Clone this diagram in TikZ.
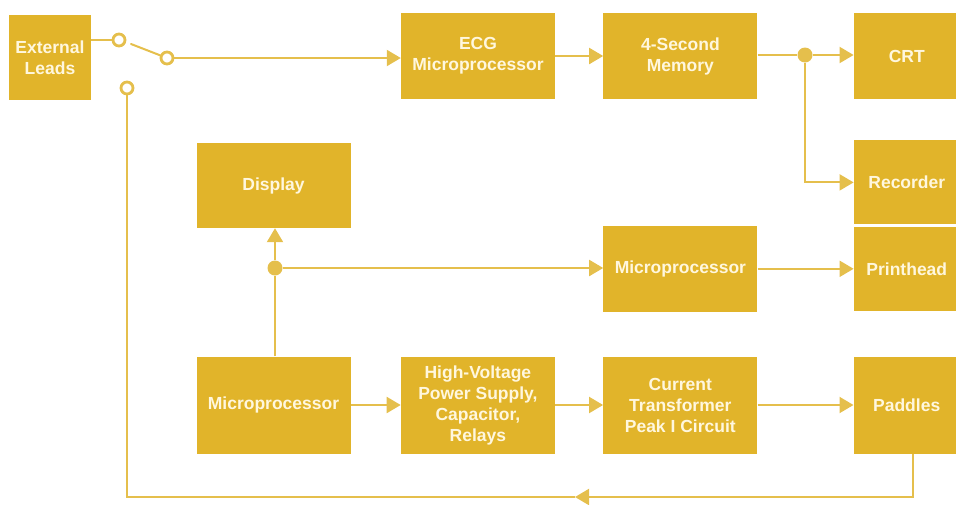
\documentclass[tikz,border=0pt]{standalone}
\usepackage{fontspec}
\setmainfont{Liberation Sans}
\usetikzlibrary{positioning,arrows.meta}
\definecolor{boxgold}{HTML}{E1B42A}
\definecolor{wiregold}{HTML}{E5BF4C}
\definecolor{boxtext}{HTML}{FFF7DE}

\begin{document}
\begin{tikzpicture}[
x=1pt, y=-1pt,
block/.style={rectangle, fill=boxgold, text=boxtext, inner sep=0pt, align=center, font=\bfseries\fontsize{17.5}{21}\selectfont, minimum width=154pt, minimum height=86pt},
lowbox/.style={block, minimum height=97pt},
sidebox/.style={block, minimum width=106pt},
contact/.style={circle, draw=wiregold, fill=white, line width=2.8pt, inner sep=0pt, minimum size=12pt},
joint/.style={circle, fill=wiregold, inner sep=0pt, minimum size=15pt},
wire/.style={draw=wiregold, line width=2pt},
feed/.style={wire, -{Triangle[length=14pt, width=16pt]}}]

\useasboundingbox (0,0) rectangle (956,504);
\clip (0,0) rectangle (956,504);

\node[block, minimum width=82pt, minimum height=85pt] (ext) at (50,57.5) {External\\Leads};
\node[block] (ecg) at (478,56) {ECG\\Microprocessor};
\node[block] (mem) [right = 48pt of ecg] {4-Second\\Memory};
\node[sidebox] (crt) [right = 96pt of mem] {CRT};
\node[sidebox, minimum height=84pt] (rec) [below = 41pt of crt] {Recorder};
\node[sidebox, minimum height=84pt] (prh) [below = 2pt of rec] {Printhead};
\node[block] (mpm) [left = 96pt of prh] {Microprocessor};
\node[block, minimum height=85pt] (disp) at (273.5,185.5) {Display};
\node[lowbox] (mpb) at (273.5,405) {Microprocessor};
\node[lowbox] (hv) [right = 50pt of mpb] {High-Voltage\\Power Supply,\\Capacitor,\\Relays};
\node[lowbox] (ct) [right = 48pt of hv] {Current\\Transformer\\Peak I Circuit};
\node[lowbox, minimum width=106pt] (pad) [right = 96pt of ct] {Paddles};

\node[contact] (swa) at (119,40) {};
\node[contact] (swb) at (167,58) {};
\node[contact] (swc) at (127,88) {};
\coordinate (tip) at (131,44);
\node[joint] (ja) at (805,55) {};
\node[joint] (jb) at (275,268) {};
\coordinate (fb) at (575,497);

\draw[wire] (swa -| ext.east) -- (swa);
\draw[wire, line cap=round] (swb) -- (tip);
\draw[feed] (swb) -- (swb -| ecg.west);
\draw[feed] (ecg) -- (mem);
\draw[wire] (mem.east |- ja) -- (ja);
\draw[feed] (ja) -- (ja -| crt.west);
\draw[feed] (ja) |- (rec);
\draw[feed] (mpm) -- (prh);
\draw[feed] (jb) -- (jb |- disp.south);
\draw[feed] (jb) -- (jb -| mpm.west);
\draw[wire] (mpb.north -| jb) -- (jb);
\draw[feed] (mpb) -- (hv);
\draw[feed] (hv) -- (ct);
\draw[feed] (ct) -- (pad);
\draw[feed] ([xshift=6pt]pad.south) |- (fb);
\draw[wire] (fb) -| (swc);
\end{tikzpicture}
\end{document}
